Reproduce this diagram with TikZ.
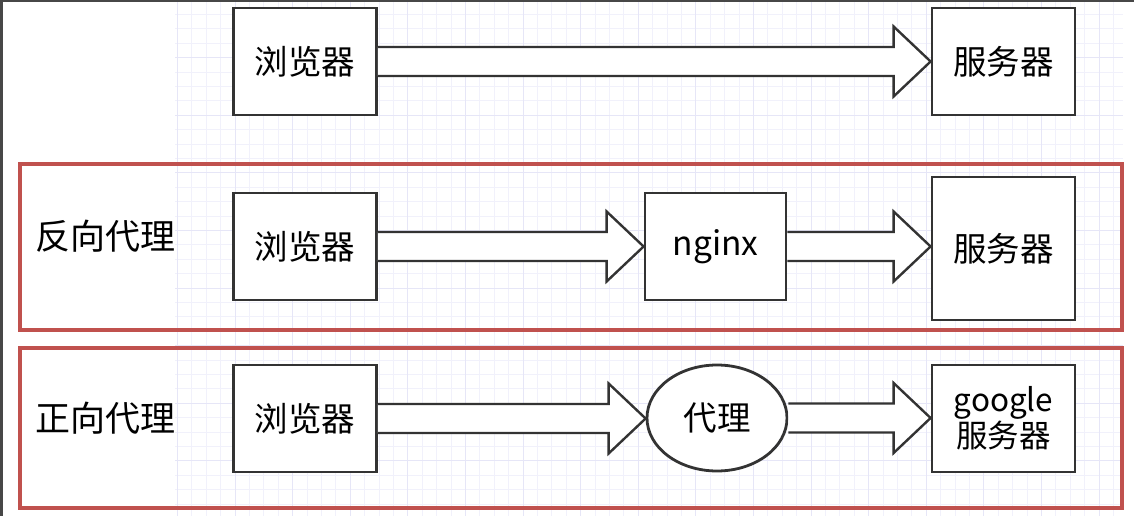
\documentclass[tikz,border=0pt]{standalone}
\usepackage{fontspec}
\setmainfont{Noto Sans CJK SC}
\usepackage{xcolor}
\usepackage{tikz}
\usetikzlibrary{calc, positioning, shapes.geometric}

\definecolor{framered}{HTML}{C0514E}
\definecolor{linegray}{HTML}{333333}
\definecolor{gridminor}{HTML}{F1F1FB}
\definecolor{gridmajor}{HTML}{E6E6F7}

\newcommand{\fatarrow}[2]{%
  \draw[fat] let \p1=(#1.east), \p2=(#2.west) in
    (\x1,\y1+14.5pt) -- (\x2-37pt,\y1+14.5pt) -- (\x2-37pt,\y1+35pt) -- (\x2,\y1)
    -- (\x2-37pt,\y1-35pt) -- (\x2-37pt,\y1-14.5pt) -- (\x1,\y1-14.5pt);
}

\begin{document}
\begin{tikzpicture}[x=1pt, y=-1pt,
    box/.style={draw=linegray, line width=2.8pt, fill=white, inner sep=0pt,
      minimum width=143pt, minimum height=107pt, font=\fontsize{33.5}{38}\selectfont},
    proxy/.style={box, ellipse, minimum width=140pt, minimum height=106pt},
    band/.style={draw=framered, line width=3.6pt},
    bandlabel/.style={font=\fontsize{35}{40}\selectfont},
    fat/.style={draw=linegray, line width=2.4pt, fill=white, line join=miter}]

        \useasboundingbox (0,0) rectangle (1134,516);
        \fill[white] (0,0) rectangle (1134,516);

        % grid paper
        \begin{scope}[shift={(4.5,0)}]
            \draw[gridminor, line width=0.8pt, step=14.4pt] (170.5,0) grid (1118.5,516);
            \draw[gridmajor, line width=0.8pt, step=57.6pt] (170.5,0) grid (1118.5,516);
        \end{scope}
        \fill[linegray!90] (0,0) rectangle (1134,2.5);
        \fill[linegray!90] (0,0) rectangle (2.5,516);

        % direct
        \node[box] (b1) at (305,61.5) {浏览器};
        \node[box] (s1) at (1003.5,61.5) {服务器};

        % reverse proxy
        \draw[band] (20,164) rectangle (1122,330);
        \node[bandlabel] (l2) at (105,236) {反向代理};
        \node[box] (b2) at (305,246.5) {浏览器};
        \node[box, minimum width=141pt] (n2) at (715.5,246.5) {nginx};
        \node[box, minimum height=143pt] (s2) at (1003.5,248.5) {服务器};

        % forward proxy
        \draw[band] (20,348) rectangle (1122,508);
        \node[bandlabel] (l3) at (105,418) {正向代理};
        \node[box] (b3) at (305,418.5) {浏览器};
        \node[proxy] (p3) at (717,418) {代理};
        \node[box, align=center, font=\fontsize{31.5}{36}\selectfont] (g3) at (1003.5,418.5) {google\\服务器};

        \fatarrow{b1}{s1}
        \fatarrow{b2}{n2}
        \fatarrow{n2}{s2}
        \fatarrow{b3}{p3}
        \fatarrow{p3}{g3}
    \end{tikzpicture}
\end{document}
